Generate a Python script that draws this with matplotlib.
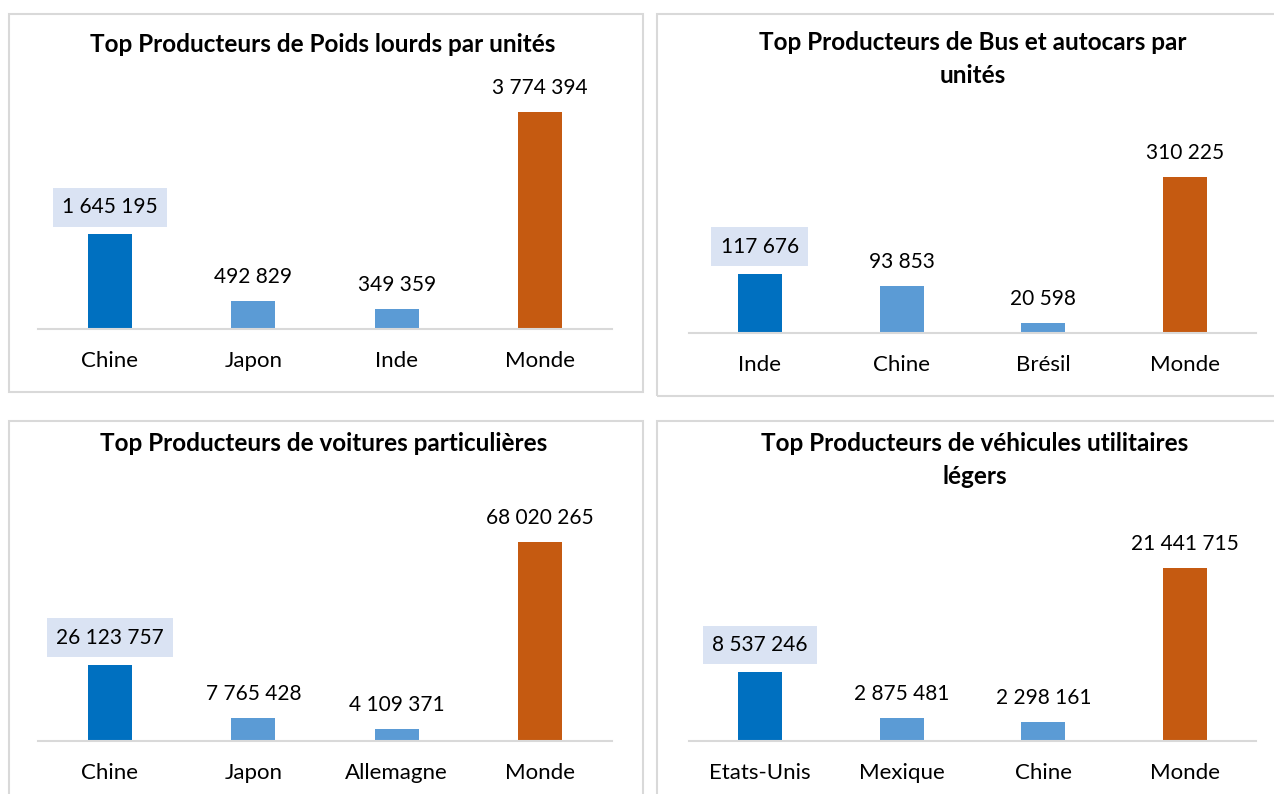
import matplotlib.pyplot as plt
from matplotlib.patches import Rectangle

# Data
poids_pays = ['Chine', 'Japon', 'Inde', 'Monde']
poids_val = [1645195, 492829, 349359, 3774394]

bus_pays = ['Inde', 'Chine', 'Brésil', 'Monde']
bus_val = [117676, 93853, 20598, 310225]

voit_pays = ['Chine', 'Japon', 'Allemagne', 'Monde']
voit_val = [26123757, 7765428, 4109371, 68020265]

vul_pays = ['Etats-Unis', 'Mexique', 'Chine', 'Monde']
vul_val = [8537246, 2875481, 2298161, 21441715]

titles = ['Top Producteurs de Poids lourds par unités',
          'Top Producteurs de Bus et autocars par\nunités',
          'Top Producteurs de voitures particulières',
          'Top Producteurs de véhicules utilitaires\nlégers']

W, H = 1274, 794
plt.rcParams['font.family'] = ['Lato', 'DejaVu Sans']

DARK = '#0070C0'
LIGHT = '#5B9BD5'
ORANGE = '#C55A11'
GREY = '#D9D9D9'
HIGHLIGHT = '#DAE3F3'

fig = plt.figure(figsize=(W / 100, H / 100), dpi=100)


def px_axes(left, top, right, bottom):
    # pixel box (from top-left) -> figure fraction
    return fig.add_axes([left / W, 1 - bottom / H, (right - left) / W, (bottom - top) / H])


def panel_border(left, top, right, bottom):
    fig.patches.append(Rectangle((left / W, 1 - bottom / H), (right - left) / W, (bottom - top) / H,
                                 transform=fig.transFigure, fill=False, edgecolor=GREY,
                                 linewidth=1.5, zorder=0))


def draw_panel(ax, pays, vals, ymax, title, tx, ty):
    colors = [DARK, LIGHT, LIGHT, ORANGE]
    x = range(len(pays))
    ax.bar(x, vals, width=0.31, color=colors, zorder=2)
    ax.set_xlim(-0.5, len(pays) - 0.5)
    ax.set_ylim(0, ymax)
    for s in ['top', 'left', 'right']:
        ax.spines[s].set_visible(False)
    ax.spines['bottom'].set_color(GREY)
    ax.spines['bottom'].set_linewidth(1.5)
    ax.set_yticks([])
    ax.set_xticks(list(x))
    ax.set_xticklabels(pays, fontsize=16, color='black')
    ax.tick_params(axis='x', length=0, pad=16)
    ax.patch.set_alpha(0)
    for i, v in enumerate(vals):
        label = f'{v:,}'.replace(',', ' ')
        kw = {}
        off = 24
        if i == 0:
            kw['bbox'] = dict(boxstyle='square,pad=0.45', facecolor=HIGHLIGHT, edgecolor='none')
            off = 27
        ax.annotate(label, (i, v), xytext=(0, off), textcoords='offset pixels',
                    ha='center', va='center', fontsize=15, color='black', **kw)
    fig.text(tx / W, 1 - ty / H, title, ha='center', va='center', fontsize=17.5,
             fontweight='bold', color='black', linespacing=1.5)


panel_border(9, 14, 643, 392)
panel_border(657, 14, 1290, 396)
panel_border(9, 421, 643, 810)
panel_border(657, 421, 1290, 810)

ax1 = px_axes(38, 99, 612, 329)
draw_panel(ax1, poids_pays, poids_val, 4000000, titles[0], 323, 45)

ax2 = px_axes(689, 157, 1256, 333)
draw_panel(ax2, bus_pays, bus_val, 350000, titles[1], 973, 59)

ax3 = px_axes(38, 507, 612, 741)
draw_panel(ax3, voit_pays, voit_val, 80000000, titles[2], 324, 443)

ax4 = px_axes(689, 539, 1256, 741)
draw_panel(ax4, vul_pays, vul_val, 25000000, titles[3], 975, 460)

fig.savefig('out.png', dpi=100)
